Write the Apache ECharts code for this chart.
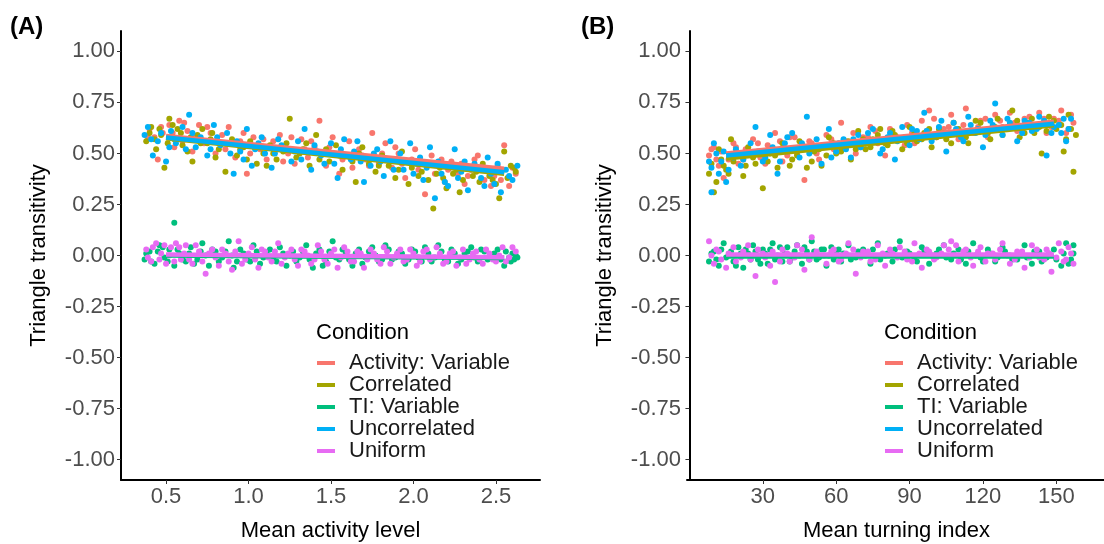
<!DOCTYPE html>
<html><head><meta charset="utf-8">
<script src="https://cdn.jsdelivr.net/npm/echarts@6/dist/echarts.min.js"></script>
<style>html,body{margin:0;padding:0;background:#fff}#c{width:1104px;height:544px}</style>
</head><body><div id="c"></div>
<script>
const conditions = ['Activity: Variable','Correlated','TI: Variable','Uncorrelated','Uniform'];
const colors = ['#F8766D','#A3A500','#00BF7D','#00B0F6','#E76BF3'];
const yTicks = [-1,-0.75,-0.5,-0.25,0,0.25,0.5,0.75,1];
const xTicksA = [0.5,1.0,1.5,2.0,2.5];
const xTicksB = [30,60,90,120,150];

// Panel A: Mean activity level
const A_activity = [[0.40,0.62],[0.43,0.58],[0.45,0.47],[0.48,0.60],[0.52,0.64],[0.55,0.53],[0.58,0.66],[0.60,0.56],[0.63,0.61],[0.66,0.51],[0.70,0.64],[0.73,0.55],[0.77,0.60],[0.80,0.50],[0.84,0.59],[0.88,0.63],[0.92,0.48],[0.95,0.56],[0.99,0.40],[1.03,0.58],[1.07,0.52],[1.11,0.47],[1.15,0.56],[1.19,0.59],[1.24,0.50],[1.28,0.45],[1.32,0.57],[1.36,0.48],[1.40,0.53],[1.43,0.66],[1.47,0.44],[1.51,0.58],[1.55,0.40],[1.59,0.49],[1.63,0.43],[1.67,0.52],[1.71,0.47],[1.75,0.60],[1.79,0.45],[1.83,0.55],[1.87,0.43],[1.91,0.50],[1.95,0.38],[1.99,0.47],[2.03,0.42],[2.07,0.30],[2.11,0.49],[2.15,0.44],[2.19,0.36],[2.23,0.46],[2.27,0.40],[2.31,0.35],[2.35,0.42],[2.39,0.49],[2.43,0.37],[2.47,0.34],[2.51,0.44],[2.55,0.54],[2.58,0.34],[2.62,0.40],
  [0.39,0.58],[0.47,0.63],[0.54,0.60],[0.61,0.65],[0.68,0.58],[0.75,0.63],[0.82,0.55],[0.86,0.52],[0.97,0.60],[1.01,0.50],[1.09,0.57],[1.13,0.53],[1.21,0.46],[1.26,0.58],[1.34,0.52],[1.38,0.56],[1.45,0.50],[1.49,0.53],[1.57,0.47],[1.61,0.56],[1.69,0.49],[1.73,0.44],[1.81,0.50],[1.85,0.47],[1.89,0.53],[1.93,0.45],[2.01,0.52],[2.05,0.45],[2.13,0.40],[2.17,0.47],[2.21,0.42],[2.29,0.45],[2.33,0.39],[2.37,0.47],[2.45,0.42],[2.49,0.39],[2.53,0.37],[2.60,0.43]];
const A_correlated = [[0.38,0.56],[0.41,0.63],[0.44,0.52],[0.47,0.59],[0.49,0.43],[0.52,0.67],[0.55,0.57],[0.57,0.62],[0.60,0.54],[0.63,0.51],[0.66,0.46],[0.69,0.59],[0.72,0.62],[0.75,0.55],[0.78,0.60],[0.82,0.52],[0.86,0.41],[0.90,0.57],[0.93,0.49],[0.97,0.53],[1.01,0.56],[1.05,0.45],[1.09,0.50],[1.13,0.54],[1.17,0.47],[1.21,0.51],[1.25,0.67],[1.29,0.48],[1.33,0.52],[1.37,0.44],[1.41,0.59],[1.45,0.50],[1.49,0.46],[1.53,0.54],[1.57,0.42],[1.61,0.49],[1.65,0.36],[1.69,0.53],[1.73,0.45],[1.77,0.41],[1.81,0.49],[1.85,0.44],[1.89,0.38],[1.93,0.51],[1.97,0.35],[2.01,0.46],[2.05,0.41],[2.09,0.37],[2.12,0.23],[2.16,0.43],[2.20,0.33],[2.24,0.40],[2.28,0.31],[2.32,0.44],[2.36,0.39],[2.40,0.36],[2.44,0.42],[2.48,0.37],[2.52,0.28],[2.55,0.51],[2.59,0.44],[2.62,0.41],
  [0.40,0.60],[0.43,0.57],[0.46,0.62],[0.51,0.55],[0.54,0.64],[0.59,0.60],[0.65,0.58],[0.71,0.55],[0.77,0.57],[0.80,0.48],[0.88,0.55],[0.95,0.52],[0.99,0.47],[1.07,0.53],[1.11,0.44],[1.15,0.50],[1.23,0.55],[1.31,0.50],[1.35,0.55],[1.43,0.47],[1.47,0.52],[1.55,0.49],[1.63,0.46],[1.67,0.50],[1.75,0.48],[1.79,0.44],[1.87,0.47],[1.91,0.42],[1.99,0.43],[2.03,0.39],[2.07,0.45],[2.14,0.40],[2.18,0.38],[2.26,0.42],[2.30,0.37],[2.38,0.41],[2.42,0.45],[2.46,0.39],[2.50,0.35],[2.57,0.38],[2.61,0.43]];
const A_tiVariable = [[0.37,-0.02],[0.40,0.02],[0.43,-0.04],[0.46,0.05],[0.49,-0.01],[0.52,0.03],[0.55,0.16],[0.55,-0.05],[0.58,0.01],[0.62,-0.03],[0.65,0.04],[0.69,-0.02],[0.72,0.06],[0.76,-0.05],[0.80,0.02],[0.84,-0.01],[0.88,0.07],[0.91,-0.06],[0.95,0.03],[0.99,-0.02],[1.03,0.05],[1.07,-0.04],[1.11,0.01],[1.15,-0.02],[1.19,0.04],[1.23,-0.05],[1.27,0.02],[1.31,-0.01],[1.35,0.05],[1.39,-0.06],[1.43,0.03],[1.47,-0.03],[1.51,0.07],[1.55,-0.02],[1.59,0.01],[1.63,-0.05],[1.67,0.03],[1.71,-0.01],[1.75,0.04],[1.79,-0.03],[1.83,0.05],[1.87,-0.02],[1.91,0.02],[1.95,-0.04],[1.99,0.03],[2.03,-0.01],[2.07,0.04],[2.11,-0.03],[2.15,0.05],[2.19,-0.02],[2.23,0.03],[2.27,-0.04],[2.31,0.01],[2.35,0.04],[2.39,-0.03],[2.43,0.02],[2.47,-0.01],[2.51,0.03],[2.55,-0.05],[2.58,-0.01],[2.60,0.01],[2.61,-0.02],[2.62,0.00],
  [0.38,0.01],[0.41,-0.03],[0.45,0.02],[0.48,0.04],[0.51,-0.03],[0.57,0.03],[0.60,-0.02],[0.64,0.01],[0.67,-0.04],[0.71,0.02],[0.74,0.00],[0.78,0.03],[0.82,-0.03],[0.86,0.02],[0.90,0.00],[0.93,-0.03],[0.97,0.01],[1.01,-0.03],[1.05,0.02],[1.09,-0.01],[1.13,0.03],[1.17,-0.03],[1.21,0.01],[1.25,0.00],[1.29,-0.03],[1.33,0.02],[1.37,-0.02],[1.41,0.01],[1.45,-0.05],[1.49,0.02],[1.53,-0.01],[1.57,0.03],[1.61,-0.02],[1.65,0.01],[1.69,-0.04],[1.73,0.02],[1.77,0.00],[1.81,-0.02],[1.85,0.03],[1.89,-0.01],[1.93,0.01],[1.97,-0.02],[2.01,0.02],[2.05,-0.03],[2.09,0.01],[2.13,-0.01],[2.17,0.02],[2.21,-0.03],[2.25,0.01],[2.29,-0.02],[2.33,0.02],[2.37,-0.01],[2.41,0.03],[2.45,-0.02],[2.49,0.01],[2.53,-0.02],[2.56,0.02],[2.59,-0.03],[2.61,0.01],[2.63,-0.01]];
const A_uncorrelated = [[0.37,0.59],[0.39,0.63],[0.42,0.49],[0.45,0.56],[0.50,0.46],[0.53,0.61],[0.56,0.55],[0.60,0.63],[0.64,0.69],[0.68,0.53],[0.71,0.58],[0.75,0.49],[0.79,0.64],[0.83,0.54],[0.87,0.60],[0.91,0.40],[0.95,0.51],[0.99,0.62],[1.02,0.44],[1.06,0.55],[1.10,0.50],[1.14,0.43],[1.18,0.57],[1.22,0.52],[1.26,0.46],[1.30,0.56],[1.34,0.62],[1.38,0.42],[1.42,0.51],[1.46,0.45],[1.50,0.55],[1.54,0.38],[1.58,0.57],[1.62,0.47],[1.66,0.56],[1.70,0.36],[1.74,0.44],[1.78,0.52],[1.82,0.39],[1.86,0.56],[1.90,0.47],[1.94,0.42],[1.98,0.55],[2.02,0.45],[2.06,0.37],[2.10,0.53],[2.13,0.28],[2.17,0.40],[2.21,0.34],[2.25,0.52],[2.29,0.41],[2.33,0.32],[2.37,0.45],[2.41,0.38],[2.45,0.48],[2.49,0.35],[2.53,0.31],[2.56,0.42],[2.60,0.37],[2.63,0.44],
  [0.41,0.57],[0.47,0.60],[0.52,0.53],[0.58,0.57],[0.62,0.52],[0.66,0.60],[0.73,0.56],[0.77,0.52],[0.81,0.58],[0.89,0.50],[0.93,0.56],[0.97,0.47],[1.04,0.52],[1.08,0.58],[1.16,0.50],[1.20,0.54],[1.28,0.51],[1.32,0.47],[1.40,0.54],[1.44,0.49],[1.52,0.45],[1.56,0.52],[1.64,0.51],[1.68,0.46],[1.76,0.50],[1.80,0.46],[1.88,0.42],[1.92,0.50],[2.00,0.40],[2.04,0.48],[2.08,0.43],[2.15,0.46],[2.19,0.36],[2.27,0.38],[2.31,0.46],[2.39,0.42],[2.43,0.34],[2.47,0.40],[2.51,0.45],[2.58,0.39]];
const A_uniform = [[0.38,0.03],[0.41,-0.03],[0.44,0.06],[0.47,0.01],[0.50,-0.04],[0.53,0.04],[0.56,0.06],[0.59,-0.02],[0.62,0.05],[0.66,-0.04],[0.70,0.02],[0.74,-0.09],[0.78,0.03],[0.82,-0.05],[0.86,0.01],[0.90,-0.07],[0.94,0.07],[0.98,-0.02],[1.02,0.04],[1.06,-0.06],[1.10,0.02],[1.14,-0.03],[1.18,0.06],[1.22,-0.01],[1.26,0.03],[1.30,-0.05],[1.34,0.02],[1.38,-0.04],[1.42,0.05],[1.46,-0.02],[1.50,0.01],[1.54,-0.06],[1.58,0.04],[1.62,-0.03],[1.66,0.02],[1.70,-0.06],[1.74,0.03],[1.78,-0.02],[1.82,0.04],[1.86,-0.04],[1.90,0.01],[1.94,-0.03],[1.98,0.03],[2.02,-0.05],[2.06,0.02],[2.10,-0.02],[2.14,0.04],[2.18,-0.04],[2.22,0.01],[2.26,-0.05],[2.30,0.03],[2.34,-0.02],[2.38,0.02],[2.42,-0.04],[2.46,0.01],[2.50,-0.03],[2.54,0.04],[2.58,-0.01],[2.62,0.02],
  [0.39,-0.01],[0.42,0.04],[0.46,-0.02],[0.49,0.05],[0.52,0.00],[0.55,-0.03],[0.58,0.04],[0.61,0.01],[0.64,-0.02],[0.68,0.05],[0.72,-0.03],[0.76,0.01],[0.80,-0.01],[0.84,0.03],[0.88,-0.03],[0.92,0.02],[0.96,-0.04],[1.00,0.01],[1.04,-0.02],[1.08,0.03],[1.12,-0.01],[1.16,0.02],[1.20,-0.04],[1.24,0.01],[1.28,-0.02],[1.32,0.03],[1.36,0.00],[1.40,-0.02],[1.44,0.02],[1.48,-0.04],[1.52,0.03],[1.56,-0.01],[1.60,0.02],[1.64,-0.03],[1.68,0.01],[1.72,-0.02],[1.76,0.01],[1.80,-0.04],[1.84,0.02],[1.88,-0.01],[1.92,0.03],[1.96,-0.02],[2.00,0.01],[2.04,-0.03],[2.08,0.03],[2.12,-0.01],[2.16,0.01],[2.20,-0.03],[2.24,0.02],[2.28,-0.01],[2.32,-0.04],[2.36,0.01],[2.40,-0.02],[2.44,0.03],[2.48,-0.02],[2.52,0.00],[2.56,-0.03],[2.60,0.04]];

// Panel B: Mean turning index
const B_activity = [[8,0.49],[10,0.53],[12,0.44],[14,0.38],[16,0.47],[18,0.55],[20,0.45],[23,0.52],[26,0.57],[29,0.48],[32,0.54],[35,0.60],[38,0.46],[41,0.58],[44,0.50],[47,0.37],[50,0.55],[53,0.47],[56,0.59],[59,0.52],[62,0.65],[65,0.54],[68,0.50],[71,0.58],[74,0.63],[77,0.55],[80,0.49],[83,0.60],[86,0.57],[89,0.64],[92,0.55],[95,0.66],[98,0.71],[101,0.58],[104,0.62],[107,0.69],[110,0.57],[113,0.72],[116,0.60],[119,0.66],[122,0.58],[125,0.69],[128,0.63],[131,0.70],[134,0.61],[137,0.67],[140,0.64],[143,0.70],[146,0.60],[149,0.67],[152,0.71],[155,0.62],[157,0.65],
  [9,0.52],[11,0.47],[13,0.51],[17,0.49],[19,0.53],[22,0.47],[25,0.50],[28,0.55],[31,0.45],[34,0.51],[37,0.56],[40,0.49],[43,0.58],[46,0.52],[49,0.56],[52,0.50],[55,0.54],[58,0.57],[61,0.51],[64,0.56],[67,0.60],[70,0.53],[73,0.58],[76,0.61],[79,0.56],[82,0.62],[85,0.58],[88,0.54],[91,0.60],[94,0.58],[97,0.61],[100,0.67],[103,0.59],[106,0.63],[109,0.60],[112,0.64],[115,0.61],[118,0.63],[121,0.67],[124,0.62],[127,0.66],[130,0.63],[133,0.65],[136,0.61],[139,0.68],[142,0.64],[145,0.67],[148,0.63],[151,0.66],[154,0.60],[156,0.69]];
const B_correlated = [[8,0.40],[10,0.31],[11,0.36],[13,0.47],[15,0.42],[17,0.57],[19,0.49],[22,0.39],[24,0.53],[27,0.45],[30,0.33],[33,0.50],[36,0.43],[39,0.52],[42,0.47],[45,0.56],[48,0.43],[51,0.51],[54,0.44],[57,0.58],[60,0.50],[63,0.53],[66,0.47],[69,0.61],[72,0.52],[75,0.57],[78,0.62],[81,0.54],[84,0.59],[87,0.52],[90,0.63],[93,0.56],[96,0.60],[99,0.53],[102,0.62],[105,0.57],[108,0.65],[111,0.59],[114,0.55],[117,0.66],[120,0.61],[123,0.57],[126,0.67],[129,0.62],[132,0.71],[135,0.58],[138,0.65],[141,0.60],[144,0.50],[147,0.68],[150,0.62],[153,0.51],[155,0.69],[157,0.41],[158,0.59],
  [9,0.45],[12,0.52],[14,0.44],[16,0.40],[18,0.46],[21,0.50],[23,0.44],[26,0.48],[29,0.51],[32,0.46],[35,0.49],[38,0.55],[41,0.44],[44,0.49],[47,0.53],[50,0.46],[53,0.52],[56,0.49],[59,0.55],[62,0.51],[65,0.56],[68,0.52],[71,0.57],[74,0.53],[77,0.59],[80,0.55],[83,0.61],[86,0.57],[89,0.55],[92,0.60],[95,0.57],[98,0.62],[101,0.58],[104,0.60],[107,0.55],[110,0.62],[113,0.58],[116,0.61],[119,0.65],[122,0.60],[125,0.63],[128,0.59],[131,0.64],[134,0.66],[137,0.60],[140,0.67],[143,0.63],[146,0.61],[149,0.66],[152,0.64],[154,0.57],[156,0.62]];
const B_tiVariable = [[8,-0.03],[10,0.02],[12,-0.05],[14,0.06],[16,0.00],[18,-0.03],[20,0.04],[22,-0.06],[24,0.01],[26,0.05],[28,-0.02],[30,0.03],[32,-0.04],[34,0.06],[36,0.00],[38,-0.03],[40,0.04],[42,-0.01],[44,0.05],[46,-0.04],[48,0.02],[50,0.07],[52,-0.02],[54,0.03],[56,-0.05],[58,0.04],[60,0.01],[62,-0.03],[65,0.05],[68,-0.01],[71,0.03],[74,-0.04],[77,0.06],[80,0.00],[83,-0.03],[86,0.07],[89,0.02],[92,-0.02],[95,0.04],[98,-0.04],[101,0.01],[104,0.05],[107,-0.02],[110,0.03],[113,-0.04],[116,0.06],[119,-0.01],[122,0.03],[125,-0.03],[128,0.04],[131,0.00],[134,-0.02],[137,0.05],[140,-0.04],[143,0.02],[146,-0.01],[149,0.03],[152,-0.05],[154,0.06],[156,-0.02],[157,0.05],
  [9,0.01],[11,-0.02],[13,0.03],[15,-0.01],[17,0.02],[19,-0.05],[21,0.01],[23,0.03],[25,-0.02],[27,0.02],[29,-0.04],[31,0.01],[33,0.03],[35,-0.02],[37,0.04],[39,0.01],[41,-0.03],[43,0.02],[45,0.00],[47,0.04],[49,-0.02],[51,0.02],[53,-0.01],[55,0.03],[57,0.00],[59,-0.02],[61,0.03],[63,0.01],[66,-0.02],[69,0.02],[72,0.00],[75,0.03],[78,-0.02],[81,0.01],[84,0.03],[87,-0.01],[90,0.01],[93,-0.03],[96,0.02],[99,0.00],[102,0.03],[105,-0.01],[108,0.01],[111,-0.02],[114,0.02],[117,0.00],[120,-0.03],[123,0.01],[126,-0.01],[129,0.02],[132,-0.02],[135,0.01],[138,-0.01],[141,0.02],[144,-0.03],[147,0.01],[150,-0.02],[153,0.01],[155,-0.04],[157,0.01]];
const B_uncorrelated = [[8,0.46],[9,0.31],[10,0.55],[12,0.40],[15,0.36],[18,0.48],[21,0.44],[24,0.50],[27,0.63],[30,0.46],[33,0.59],[36,0.40],[39,0.55],[42,0.60],[45,0.48],[48,0.68],[51,0.53],[54,0.45],[57,0.62],[60,0.51],[63,0.57],[66,0.48],[69,0.59],[72,0.55],[75,0.62],[78,0.50],[81,0.58],[84,0.47],[87,0.63],[90,0.54],[93,0.61],[96,0.70],[99,0.56],[102,0.63],[105,0.51],[108,0.65],[111,0.58],[114,0.68],[117,0.60],[120,0.53],[123,0.66],[125,0.745],[128,0.59],[131,0.65],[134,0.56],[137,0.66],[140,0.61],[143,0.68],[146,0.49],[149,0.63],[152,0.60],[154,0.56],[156,0.67],
  [9,0.43],[11,0.50],[13,0.46],[14,0.51],[16,0.42],[19,0.52],[22,0.47],[25,0.55],[28,0.51],[31,0.48],[34,0.53],[37,0.46],[40,0.58],[43,0.52],[46,0.55],[49,0.50],[52,0.57],[55,0.53],[58,0.48],[61,0.55],[64,0.52],[67,0.57],[70,0.53],[73,0.60],[76,0.56],[79,0.52],[82,0.60],[85,0.56],[88,0.58],[91,0.62],[94,0.57],[97,0.61],[100,0.58],[103,0.66],[106,0.60],[109,0.62],[112,0.56],[115,0.64],[118,0.62],[121,0.59],[124,0.64],[127,0.62],[130,0.67],[133,0.63],[136,0.60],[139,0.65],[142,0.62],[145,0.66],[148,0.60],[151,0.64],[153,0.67],[155,0.62]];
const B_uniform = [[8,0.07],[10,-0.04],[12,0.02],[15,-0.06],[18,0.04],[21,-0.01],[24,0.05],[27,-0.10],[30,0.01],[33,-0.05],[35,-0.13],[38,0.03],[41,-0.03],[44,0.05],[47,-0.07],[50,0.09],[53,0.00],[56,-0.04],[59,0.03],[62,-0.02],[65,0.06],[68,-0.09],[71,0.02],[74,-0.03],[77,0.05],[80,-0.05],[83,0.01],[86,0.04],[89,-0.02],[92,0.06],[95,-0.06],[98,0.02],[101,-0.01],[104,0.05],[107,0.07],[110,-0.03],[113,0.03],[116,-0.05],[119,0.04],[122,0.01],[125,-0.02],[128,0.06],[131,-0.04],[134,0.02],[137,-0.06],[140,0.05],[143,-0.01],[146,0.03],[148,-0.08],[151,0.06],[153,-0.03],[155,0.04],[157,-0.04],
  [9,0.00],[11,0.03],[13,-0.02],[16,0.01],[19,-0.03],[22,0.02],[25,-0.02],[28,0.03],[31,-0.01],[34,0.02],[37,-0.03],[40,0.01],[43,-0.01],[46,0.03],[49,-0.02],[52,0.02],[55,0.00],[58,0.02],[61,-0.03],[64,0.01],[67,0.03],[70,-0.01],[73,0.02],[76,-0.02],[79,0.01],[82,0.03],[85,-0.01],[88,0.02],[91,-0.03],[94,0.01],[97,0.03],[100,-0.02],[103,0.01],[106,0.03],[109,0.05],[112,0.02],[115,-0.01],[118,0.02],[121,-0.03],[124,0.01],[127,0.03],[130,0.00],[133,-0.02],[136,0.02],[139,-0.01],[142,0.03],[145,-0.02],[147,0.01],[150,-0.01],[152,0.02],[154,-0.02],[156,0.01]];

// Fitted regression lines (endpoints)
const A_fit_activity = [[0.5,0.585],[2.55,0.425]];
const A_fit_correlated = [[0.5,0.575],[2.55,0.400]];
const A_fit_tiVariable = [[0.5,0.000],[2.55,-0.012]];
const A_fit_uncorrelated = [[0.5,0.578],[2.55,0.408]];
const A_fit_uniform = [[0.5,0.005],[2.55,-0.008]];
const B_fit_activity = [[15,0.500],[149,0.655]];
const B_fit_correlated = [[15,0.475],[149,0.638]];
const B_fit_tiVariable = [[15,-0.005],[149,-0.005]];
const B_fit_uncorrelated = [[15,0.490],[149,0.645]];
const B_fit_uniform = [[15,0.005],[149,0.005]];

const pointsA = [A_activity,A_correlated,A_tiVariable,A_uncorrelated,A_uniform];
const pointsB = [B_activity,B_correlated,B_tiVariable,B_uncorrelated,B_uniform];
const fitsA = [A_fit_activity,A_fit_correlated,A_fit_tiVariable,A_fit_uncorrelated,A_fit_uniform];
const fitsB = [B_fit_activity,B_fit_correlated,B_fit_tiVariable,B_fit_uncorrelated,B_fit_uniform];

const FONT = '"Liberation Sans", Arial, sans-serif';
const chart = echarts.init(document.getElementById('c'), null, {renderer:'canvas'});

function yAxis(gi){
  return {type:'value', gridIndex:gi, min:-1.1, max:1.1,
    name:'Triangle transitivity', nameLocation:'middle', nameGap:71,
    nameTextStyle:{fontFamily:FONT, fontSize:22, color:'#000'},
    axisLine:{show:true, lineStyle:{color:'#000', width:2}},
    axisTick:{show:true, length:4, lineStyle:{color:'#333', width:1}, customValues:yTicks},
    axisLabel:{fontFamily:FONT, fontSize:22, color:'#4d4d4d', margin:6, customValues:yTicks,
      formatter:v=>v.toFixed(2)},
    splitLine:{show:false}};
}
function xAxis(gi, min, max, ticks, name, dec){
  return {type:'value', gridIndex:gi, min:min, max:max,
    name:name, nameLocation:'middle', nameGap:40,
    nameTextStyle:{fontFamily:FONT, fontSize:22, color:'#000'},
    axisLine:{show:true, onZero:false, lineStyle:{color:'#000', width:2}},
    axisTick:{show:true, length:4, lineStyle:{color:'#333', width:1}, customValues:ticks},
    axisLabel:{fontFamily:FONT, fontSize:22, color:'#4d4d4d', margin:6, customValues:ticks,
      formatter:v=>v.toFixed(dec)},
    splitLine:{show:false}};
}

const series = [];
[[pointsA,0],[pointsB,1]].forEach(([pts,gi])=>{
  pts.forEach((d,i)=>{
    series.push({type:'scatter', name:conditions[i], xAxisIndex:gi, yAxisIndex:gi,
      data:d, symbolSize:6, itemStyle:{color:colors[i], opacity:1}, silent:true, z:2});
  });
});
[[fitsA,0],[fitsB,1]].forEach(([fits,gi])=>{
  fits.forEach((d,i)=>{
    series.push({type:'line', name:conditions[i], xAxisIndex:gi, yAxisIndex:gi,
      data:d, showSymbol:false, symbol:'none', lineStyle:{color:colors[i], width:4.5},
      itemStyle:{color:colors[i]}, silent:true, z:3});
  });
});

function legend(left){
  return {show:true, orient:'vertical', left:left, top:352, padding:0, itemGap:0,
    itemWidth:18, itemHeight:4, icon:'rect', data:conditions, selectedMode:false,
    textStyle:{fontFamily:FONT, fontSize:22, color:'#1a1a1a', lineHeight:21.7, padding:[0,0,0,9]}};
}

chart.setOption({
  animation:false,
  backgroundColor:'#fff',
  grid:[{left:121, top:31, width:419, height:449, outerBoundsMode:'none', containLabel:false},
        {left:687, top:31, width:419, height:449, outerBoundsMode:'none', containLabel:false}],
  xAxis:[xAxis(0,0.227,2.767,xTicksA,'Mean activity level',1),
         xAxis(1,-1.0,170.3,xTicksB,'Mean turning index',0)],
  yAxis:[yAxis(0), yAxis(1)],
  legend:[legend(317), legend(885)],
  graphic:[
    {type:'text', left:10, top:15, style:{text:'(A)', font:'bold 24px '+FONT, fill:'#000'}},
    {type:'text', left:581, top:15, style:{text:'(B)', font:'bold 24px '+FONT, fill:'#000'}},
    {type:'text', left:316, top:322, style:{text:'Condition', font:'22px '+FONT, fill:'#000'}},
    {type:'text', left:884, top:322, style:{text:'Condition', font:'22px '+FONT, fill:'#000'}}
  ],
  series:series
});
</script></body></html>
